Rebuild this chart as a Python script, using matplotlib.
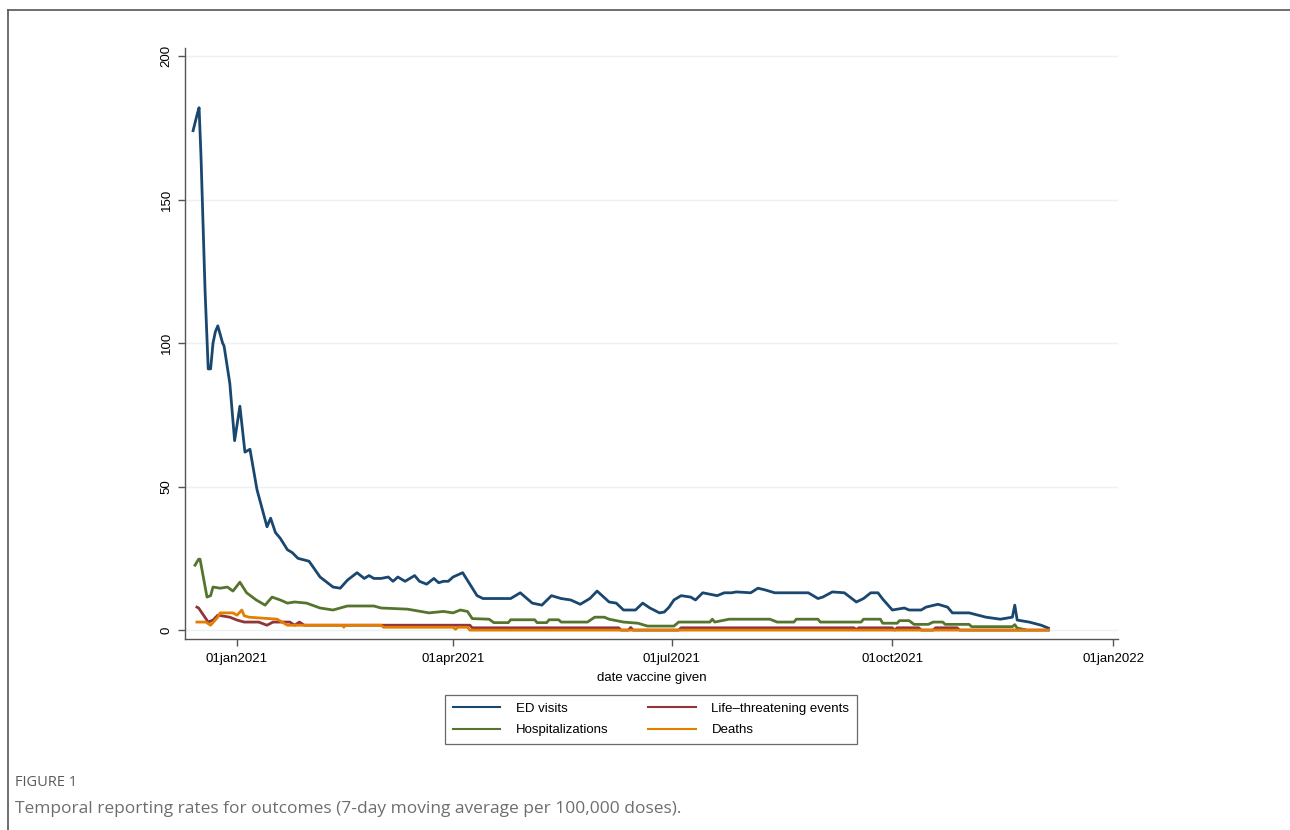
import matplotlib
matplotlib.use("Agg")
import matplotlib.pyplot as plt
from matplotlib.lines import Line2D
import pandas as pd


# days relative to 01jan2021, values per 100,000 doses
ed_days = [-18.3, -16.5, -15.8, -15, -13.3, -12, -11, -10, -9, -8, -6, -5.4,
           -3, -1, 1.2, 3.3, 5.4, 8.3, 12.5, 14, 16, 18, 21, 23, 25.4, 30,
           34.6, 40, 43, 46, 50, 53, 55, 57, 60, 63, 65, 67, 70, 72, 74, 76,
           79, 82, 84, 86, 88, 90, 94, 97, 100, 102.5, 114, 118, 123, 127,
           131, 135, 139, 143, 147, 150, 155, 158, 161, 166, 169, 172, 176,
           178, 180, 182, 185, 189, 191, 194, 197, 200, 203, 206, 208, 214,
           217, 220, 224, 228, 238, 242, 244, 248, 253, 258, 261, 264, 267,
           269, 273, 278, 280, 285, 287, 292, 296, 298, 305, 312, 318, 323,
           324, 325, 330, 335, 338]
ed_vals = [174, 180, 182, 165, 118, 91, 91, 100, 104, 106, 100, 99,
           86, 66, 78, 62, 63, 49, 36, 39, 34, 32, 28, 27, 25, 24,
           18.5, 15, 14.6, 17.4, 20, 18, 19, 18, 18, 18.5, 17, 18.5, 17, 18, 19, 17,
           16, 18, 16.5, 17, 17, 18.5, 20, 16, 12, 11, 11, 13, 9.4, 8.7,
           12, 11, 10.5, 9, 11, 13.6, 9.8, 9.4, 7, 7, 9.4, 7.7, 6,
           6.3, 8, 10.5, 12, 11.5, 10.5, 13, 12.5, 12, 13, 13, 13.3, 13,
           14.6, 14, 13, 13, 13, 11, 11.5, 13.3, 13, 9.8, 11, 13, 13,
           10.8, 7, 7.7, 7, 7, 8, 9, 8, 6, 6, 4.5, 3.8, 4.5,
           8.7, 3.5, 2.8, 1.7, 0.7]

life_days = [-16.7, -16, -12, -10, -8, -3, 0, 3, 9, 12.5, 15, 22, 24, 26, 28,
             35, 60, 97, 98, 159, 160, 163, 164, 165, 184, 185, 257, 258, 259,
             273, 274, 275, 284, 285, 290, 291, 300, 301, 338]
life_vals = [8, 7.7, 2.8, 3.5, 5.2, 4.5, 3.5, 2.8, 2.8, 1.7, 2.8, 2.8, 1.7, 2.8, 1.7,
             1.7, 1.7, 1.7, 0.8, 0.8, 0, 0, 0.9, 0, 0, 0.8, 0.8, 0.2, 0.8,
             0.8, 0, 0.8, 0.8, 0, 0, 0.8, 0.8, 0, 0]

hosp_days = [-17.5, -16, -15.4, -12.5, -11, -10, -7, -4, -1.7, 1.2, 4, 8, 11.7,
             14.6, 18, 21, 24, 29, 34.6, 40, 46, 57, 60, 71, 80, 86, 90, 93, 96,
             98, 105, 107, 113, 114, 124, 125, 129, 130, 134, 135, 146, 149,
             153, 155, 161, 167, 171, 182, 184, 197, 198, 199, 205, 222, 225,
             232, 233, 242, 243, 260, 261, 268, 269, 275, 276, 280, 282, 288,
             290, 294, 295, 305, 306, 323, 324, 325, 328]
hosp_vals = [22.6, 24.7, 24.7, 11.5, 12, 15, 14.6, 15, 13.6, 16.7, 13, 10.5, 8.7,
             11.5, 10.5, 9.4, 9.8, 9.4, 7.7, 7, 8.4, 8.4, 7.7, 7.3, 6, 6.5, 6, 7, 6.5,
             4, 3.8, 2.6, 2.6, 3.6, 3.6, 2.6, 2.6, 3.6, 3.6, 2.8, 2.8, 4.5,
             4.5, 3.8, 2.8, 2.4, 1.4, 1.4, 2.8, 2.8, 3.8, 2.8, 3.8, 3.8, 2.8,
             2.8, 3.8, 3.8, 2.8, 2.8, 3.8, 3.8, 2.4, 2.4, 3.3, 3.3, 2, 2,
             2.8, 2.8, 2, 2, 1.2, 1.2, 1.9, 0.7, 0.2]

death_days = [-16.7, -13, -11, -8, -7, -1.7, 0, 2, 3, 5, 16.7, 21, 44, 44.5, 45,
              60, 61, 90, 91, 92, 96, 97, 338]
death_vals = [2.8, 2.8, 1.7, 4.5, 6, 6, 5.2, 7, 5, 4.5, 3.8, 1.7, 1.7, 1, 1.7,
              1.7, 1, 1, 0.3, 1, 1, 0, 0]

tick_dates = ["2021-01-01", "2021-04-01", "2021-07-01", "2021-10-01", "2022-01-01"]
tick_labels = ["01jan2021", "01apr2021", "01jul2021", "01oct2021", "01jan2022"]
y_ticks = [0, 50, 100, 150, 200]

NAVY = "#1a476f"
MAROON = "#90353b"
GREEN = "#55752f"
ORANGE = "#e37e00"

BASE = pd.Timestamp("2021-01-01")


def to_dates(days):
    return BASE + pd.to_timedelta(days, unit="D")


plt.rcParams.update({
    "font.family": ["Liberation Sans", "DejaVu Sans"],
    "font.size": 9,
})

fig = plt.figure(figsize=(12.9, 8.3), dpi=100)
ax = fig.add_axes([185 / 1290, 1 - 639 / 830, (1118 - 185) / 1290, (639 - 48) / 830])

lw = 2.0
l_ed, = ax.plot(to_dates(ed_days), ed_vals, color=NAVY, lw=lw, label="ED visits")
l_life, = ax.plot(to_dates(life_days), life_vals, color=MAROON, lw=lw,
                  label="Life\u2013threatening events")
l_hosp, = ax.plot(to_dates(hosp_days), hosp_vals, color=GREEN, lw=lw,
                  label="Hospitalizations")
l_death, = ax.plot(to_dates(death_days), death_vals, color=ORANGE, lw=lw,
                   label="Deaths")

ax.set_xlim(pd.Timestamp("2020-12-10 08:00"), pd.Timestamp("2022-01-03"))
ax.set_ylim(-3.1, 202.8)

ax.set_xticks(pd.to_datetime(tick_dates))
ax.set_xticklabels(tick_labels)
ax.set_yticks(y_ticks)
ax.set_yticklabels([str(v) for v in y_ticks], rotation=90, va="center")

ax.grid(axis="y", color="#eaf2f3", lw=1)
ax.set_axisbelow(True)
for side in ["top", "right"]:
    ax.spines[side].set_visible(False)
for side in ["left", "bottom"]:
    ax.spines[side].set_color("#555555")
    ax.spines[side].set_linewidth(1.0)
ax.tick_params(colors="#555555", length=5, width=1.0, labelcolor="black",
               labelsize=9.5)
ax.tick_params(axis="x", pad=5)
ax.tick_params(axis="y", pad=4)
ax.set_xlabel("date vaccine given", fontsize=9.5, labelpad=5)

leg = fig.legend(handles=[l_ed, l_hosp, l_life, l_death], ncol=2,
                 loc="center", bbox_to_anchor=(651 / 1290, 1 - 719.5 / 830),
                 fontsize=9.5, frameon=True, fancybox=False,
                 handlelength=3.6, handletextpad=1.2, columnspacing=3.0,
                 labelspacing=0.7, borderpad=0.55)
leg.get_frame().set_edgecolor("#444444")
leg.get_frame().set_linewidth(0.9)
for h in leg.get_lines():
    h.set_linewidth(1.5)

# page frame
fig.add_artist(Line2D([8 / 1290, 8 / 1290], [0, 1 - 10 / 830], color="#555555",
                      lw=1.2, transform=fig.transFigure))
fig.add_artist(Line2D([8 / 1290, 1], [1 - 10 / 830, 1 - 10 / 830], color="#555555",
                      lw=1.2, transform=fig.transFigure))

fig.text(15 / 1290, 1 - 782 / 830, "FIGURE 1", family="Open Sans", fontsize=10.5,
         color="#5a5a5a", va="center")
fig.text(15 / 1290, 1 - 809 / 830,
         "Temporal reporting rates for outcomes (7-day moving average per 100,000 doses).",
         family="Open Sans", fontsize=12.5, color="#6e6e6e", va="center")

fig.savefig("out.png", dpi=100)
